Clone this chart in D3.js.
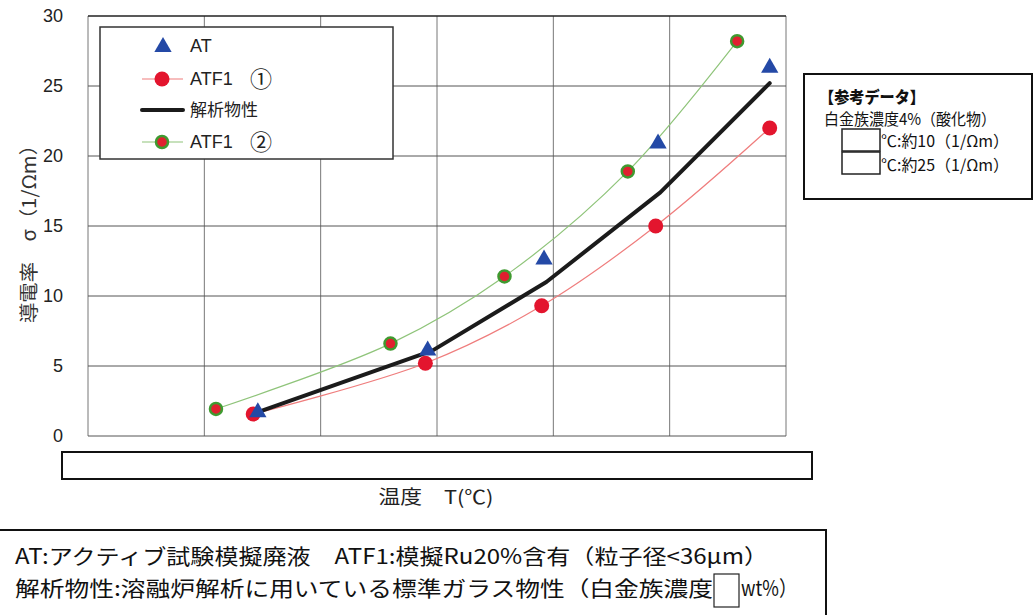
<!DOCTYPE html>
<html>
<head>
<meta charset="utf-8">
<script src="https://cdn.jsdelivr.net/npm/d3@7"></script>
<style>
  body { margin: 0; background: #fff; }
  svg { display: block; }
</style>
</head>
<body>
<div id="chart"></div>
<script>
// Data (x in ℃, guessed scale; y in 1/Ωm)
const xTicks = [900, 950, 1000, 1050, 1100, 1150, 1200];
const yTicks = [0, 5, 10, 15, 20, 25, 30];

const atX = [973, 1046, 1096, 1145, 1193];
const atY = [1.7, 6.1, 12.6, 20.9, 26.3];

const atf1aX = [971, 1045, 1095, 1144, 1193];
const atf1aY = [1.57, 5.2, 9.3, 15.0, 22.0];

const calcX = [973, 1048, 1097, 1146, 1193];
const calcY = [1.7, 6.1, 11.0, 17.4, 25.2];

const atf1bX = [955, 1030, 1079, 1132, 1179];
const atf1bY = [1.93, 6.6, 11.4, 18.9, 28.2];

const jp = "'Noto Sans CJK JP', sans-serif";
const lat = "'Liberation Sans', Arial, sans-serif";

const W = 1036, H = 615;
const svg = d3.select("#chart").append("svg")
  .attr("width", W)
  .attr("height", H);

const x = d3.scaleLinear().domain([900, 1200]).range([88, 786]);
const y = d3.scaleLinear().domain([0, 30]).range([436, 16]);

// grid
svg.selectAll("line.vgrid")
  .data(xTicks)
  .enter().append("line")
  .attr("x1", d => x(d)).attr("x2", d => x(d))
  .attr("y1", y(0)).attr("y2", y(30))
  .style("stroke", "#777")
  .style("stroke-width", 1);

svg.selectAll("line.hgrid")
  .data(yTicks)
  .enter().append("line")
  .attr("x1", x(900)).attr("x2", x(1200))
  .attr("y1", d => y(d)).attr("y2", d => y(d))
  .style("stroke", d => (d === 30 ? "#222" : "#555"))
  .style("stroke-width", d => (d === 30 ? 1.5 : 1));

// y axis labels
const yAxis = d3.axisLeft(y).tickValues(yTicks).tickSize(0).tickPadding(25);
svg.append("g")
  .attr("transform", "translate(" + x(900) + ",0)")
  .call(yAxis)
  .call(g => g.select(".domain").remove())
  .selectAll("text")
  .style("font-family", lat)
  .style("font-size", "18px")
  .style("fill", "#222");

// y axis title
svg.append("text")
  .attr("transform", "translate(29,229) rotate(-90)")
  .attr("dy", "0.35em")
  .attr("textLength", 188)
  .attr("lengthAdjust", "spacingAndGlyphs")
  .style("text-anchor", "middle")
  .style("font-family", jp)
  .style("font-size", "19px")
  .style("fill", "#333")
  .text("導電率\u3000σ（1/Ωm）");

// legend box
const lg = svg.append("g");
lg.append("rect")
  .attr("x", 100).attr("y", 27)
  .attr("width", 293).attr("height", 132)
  .style("fill", "#fff")
  .style("stroke", "#333")
  .style("stroke-width", 1.5);

const legendRows = [
  { name: "AT", no: "", type: "tri", yy: 46 },
  { name: "ATF1", no: "①", type: "red", yy: 79 },
  { name: "解析物性", no: "", type: "black", yy: 110 },
  { name: "ATF1", no: "②", type: "green", yy: 142 }
];

// lines
const line = d3.line()
  .x(d => x(d[0]))
  .y(d => y(d[1]));
const smooth = d3.line()
  .x(d => x(d[0]))
  .y(d => y(d[1]))
  .curve(d3.curveCatmullRom.alpha(0.5));

svg.append("path")
  .datum(d3.zip(atf1bX, atf1bY))
  .attr("d", smooth)
  .style("fill", "none")
  .style("stroke", "#8fc47a")
  .style("stroke-width", 1.2);

svg.append("path")
  .datum(d3.zip(atf1aX, atf1aY))
  .attr("d", smooth)
  .style("fill", "none")
  .style("stroke", "#ef7d7d")
  .style("stroke-width", 1.2);

svg.append("path")
  .datum(d3.zip(calcX, calcY))
  .attr("d", line)
  .style("fill", "none")
  .style("stroke", "#1b1b1b")
  .style("stroke-width", 4)
  .style("stroke-linecap", "round")
  .style("stroke-linejoin", "round");

// markers
const tri = d3.symbol().type(d3.symbolTriangle).size(130);

svg.selectAll("circle.b")
  .data(d3.zip(atf1bX, atf1bY))
  .enter().append("circle")
  .attr("cx", d => x(d[0])).attr("cy", d => y(d[1]))
  .attr("r", 6)
  .style("fill", "#e0202f")
  .style("stroke", "#3f9a30")
  .style("stroke-width", 2.5);

svg.selectAll("circle.a")
  .data(d3.zip(atf1aX, atf1aY))
  .enter().append("circle")
  .attr("cx", d => x(d[0])).attr("cy", d => y(d[1]))
  .attr("r", 7.5)
  .style("fill", "#e3152e");

svg.selectAll("path.tri")
  .data(d3.zip(atX, atY))
  .enter().append("path")
  .attr("d", tri)
  .attr("transform", d => "translate(" + x(d[0]) + "," + y(d[1]) + ")")
  .style("fill", "#2449a6");

// legend entries
legendRows.forEach(r => {
  if (r.type === "tri") {
    lg.append("path").attr("d", tri)
      .attr("transform", "translate(163," + (r.yy + 1) + ")")
      .style("fill", "#2449a6");
  } else {
    const col = r.type === "red" ? "#ef7d7d" : r.type === "green" ? "#8fc47a" : "#1b1b1b";
    lg.append("line")
      .attr("x1", 142).attr("x2", 183)
      .attr("y1", r.yy).attr("y2", r.yy)
      .style("stroke", col)
      .style("stroke-width", r.type === "black" ? 4 : 1.2)
      .style("stroke-linecap", r.type === "black" ? "round" : "butt");
    if (r.type === "red") {
      lg.append("circle").attr("cx", 162).attr("cy", r.yy).attr("r", 7.5)
        .style("fill", "#e3152e");
    }
    if (r.type === "green") {
      lg.append("circle").attr("cx", 162).attr("cy", r.yy).attr("r", 6)
        .style("fill", "#e0202f").style("stroke", "#3f9a30").style("stroke-width", 2.5);
    }
  }
  lg.append("text")
    .attr("x", 190).attr("y", r.yy)
    .attr("dy", "0.35em")
    .style("font-family", r.type === "black" ? jp : lat)
    .style("font-size", r.type === "black" ? "17px" : "18px")
    .style("fill", "#222")
    .text(r.name);
  if (r.no) {
    lg.append("text")
      .attr("x", 250).attr("y", r.yy)
      .attr("dy", "0.35em")
      .style("font-family", jp)
      .style("font-size", "22px")
      .style("fill", "#222")
      .text(r.no);
  }
});

// blank box under the plot (covers x tick labels)
svg.append("rect")
  .attr("x", 62).attr("y", 452)
  .attr("width", 750).attr("height", 27)
  .style("fill", "#fff")
  .style("stroke", "#111")
  .style("stroke-width", 2);

svg.append("text")
  .attr("x", 436).attr("y", 497)
  .attr("dy", "0.35em")
  .attr("textLength", 115)
  .attr("lengthAdjust", "spacingAndGlyphs")
  .style("text-anchor", "middle")
  .style("font-family", jp)
  .style("font-size", "19px")
  .style("fill", "#222")
  .text("温度\u3000T(℃)");

// reference data box
const rb = svg.append("g");
rb.append("rect")
  .attr("x", 804).attr("y", 74)
  .attr("width", 228).attr("height", 125)
  .style("fill", "#fff")
  .style("stroke", "#111")
  .style("stroke-width", 2);
rb.append("text")
  .attr("x", 819).attr("y", 97)
  .attr("dy", "0.35em")
  .attr("textLength", 106)
  .attr("lengthAdjust", "spacingAndGlyphs")
  .style("font-family", jp)
  .style("font-size", "16px")
  .style("font-weight", "900")
  .style("fill", "#111")
  .text("【参考データ】");
rb.append("text")
  .attr("x", 824).attr("y", 119)
  .attr("dy", "0.35em")
  .attr("textLength", 172)
  .attr("lengthAdjust", "spacingAndGlyphs")
  .style("font-family", jp)
  .style("font-size", "16px")
  .style("fill", "#111")
  .text("白金族濃度4%（酸化物）");
[[129, 141, "℃:約10（1/Ωm）"], [152, 165, "℃:約25（1/Ωm）"]].forEach(r => {
  rb.append("rect")
    .attr("x", 842).attr("y", r[0])
    .attr("width", 38).attr("height", 22)
    .style("fill", "#fff")
    .style("stroke", "#222")
    .style("stroke-width", 1.5);
  rb.append("text")
    .attr("x", 881).attr("y", r[1])
    .attr("dy", "0.35em")
    .attr("textLength", 128)
    .attr("lengthAdjust", "spacingAndGlyphs")
    .style("font-family", jp)
    .style("font-size", "16px")
    .style("fill", "#111")
    .text(r[2]);
});

// note box at bottom
svg.append("rect")
  .attr("x", -2).attr("y", 530)
  .attr("width", 828).attr("height", 100)
  .style("fill", "#fff")
  .style("stroke", "#111")
  .style("stroke-width", 2);
svg.append("text")
  .attr("x", 15).attr("y", 557)
  .attr("dy", "0.35em")
  .attr("textLength", 753)
  .attr("lengthAdjust", "spacingAndGlyphs")
  .style("font-family", jp)
  .style("font-size", "21px")
  .style("fill", "#111")
  .text("AT:アクティブ試験模擬廃液\u3000ATF1:模擬Ru20%含有（粒子径<36μm）");
svg.append("text")
  .attr("x", 15).attr("y", 589)
  .attr("dy", "0.35em")
  .attr("textLength", 698)
  .attr("lengthAdjust", "spacingAndGlyphs")
  .style("font-family", jp)
  .style("font-size", "21px")
  .style("fill", "#111")
  .text("解析物性:溶融炉解析に用いている標準ガラス物性（白金族濃度");
svg.append("rect")
  .attr("x", 714).attr("y", 574)
  .attr("width", 25).attr("height", 33)
  .style("fill", "#fff")
  .style("stroke", "#222")
  .style("stroke-width", 1.2);
svg.append("text")
  .attr("x", 741).attr("y", 589)
  .attr("dy", "0.35em")
  .attr("textLength", 56)
  .attr("lengthAdjust", "spacingAndGlyphs")
  .style("font-family", jp)
  .style("font-size", "21px")
  .style("fill", "#111")
  .text("wt%）");
</script>
</body>
</html>
